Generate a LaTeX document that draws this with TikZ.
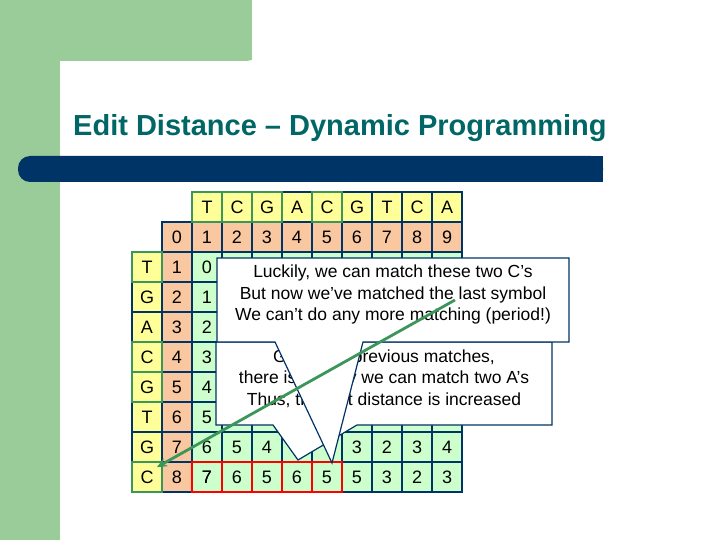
\documentclass[tikz,border=0pt]{standalone}
\usepackage{fontspec}
\setmainfont{Liberation Sans}
\usetikzlibrary{arrows.meta}
\begin{document}
\begin{tikzpicture}[x=1pt,y=-1pt,
  cell/.style={draw=navy,line width=1.8pt},
  callout/.style={draw=navy,fill=white,line width=1.2pt,line join=miter},
  ctext/.style={font=\fontsize{17.5}{20}\selectfont,anchor=center},
  celltxt/.style={font=\fontsize{18}{20}\selectfont,anchor=center}]
\definecolor{navy}{RGB}{0,51,102}
\definecolor{sgreen}{RGB}{153,204,153}
\definecolor{ttl}{RGB}{0,102,102}
\definecolor{hy}{RGB}{255,255,153}
\definecolor{ho}{RGB}{250,200,160}
\definecolor{hg}{RGB}{204,255,204}
\definecolor{ogreen}{RGB}{60,150,90}
\useasboundingbox (0,0) rectangle (720,540);
\fill[white] (0,0) rectangle (720,540);
\fill[sgreen] (0,0) rectangle (252,61);
\fill[sgreen] (0,0) rectangle (60,540);
\fill[white] (60,540) -- (60,78) arc[start angle=180,end angle=270,x radius=18,y radius=-18] -- (252,60) -- (252,61) -- (720,61) -- (720,540) -- cycle;
\node[anchor=base west,text=ttl,font=\bfseries\fontsize{29}{32}\selectfont,inner sep=0pt] (title) at (73,136) {Edit Distance – Dynamic Programming};
\fill[navy,rounded corners=12pt] (18,156) rectangle (603,182);
\fill[navy] (40,156) rectangle (603,182);
% header letters
\foreach \c [count=\i] in {T,C,G,A,C,G,T,C,A}{
  \draw[cell,fill=hy] (162+30*\i,192) rectangle ++(30,30);
  \node[celltxt] (h\i) at (177+30*\i,207) {\c};}
\foreach \v in {0,...,9}{
  \draw[cell,fill=ho] (162+30*\v,222) rectangle ++(30,30);
  \node[celltxt] (n\v) at (177+30*\v,237) {\v};}
\foreach \c [count=\j] in {T,G,A,C,G,T,G,C}{
  \draw[cell,fill=hy] (132,222+30*\j) rectangle ++(30,30);
  \node[celltxt] (r\j) at (147,237+30*\j) {\c};
  \draw[cell,fill=ho] (162,222+30*\j) rectangle ++(30,30);
  \node[celltxt] (m\j) at (177,237+30*\j) {\j};
  \foreach \i in {1,...,9}{\draw[cell,fill=hg] (162+30*\i,222+30*\j) rectangle ++(30,30);}
}
\foreach \v [count=\j] in {0,1,2,3,4,5,6,7}{\node[celltxt] (c\j) at (207,237+30*\j) {\v};}
\foreach \v/\i in {5/2,4/3,3/6,2/7,3/8,4/9}{\node[celltxt] (g\i) at (177+30*\i,447) {\v};}
\foreach \v [count=\i] in {7,6,5,6,5,5,3,2,3}{\node[celltxt] (b\i) at (177+30*\i,477) {\v};}
% highlights
\foreach \i in {1,2,3,5}{\draw[ogreen,line width=2.6pt] (162+30*\i,192) rectangle ++(30,30);}
\foreach \j in {1,4,5,8}{\draw[ogreen,line width=2.6pt] (132,222+30*\j) rectangle ++(30,30);}
\foreach \i in {1,...,5}{\draw[red,line width=2.6pt] (162+30*\i,462) rectangle ++(30,30);}
% callout 2
\draw[callout] (216,342) -- (552,342) -- (552,425) -- (357,425) -- (298,460) -- (273,425) -- (216,425) -- cycle;
\node[ctext] (t2a) at (384,358) {Given the previous matches,};
\node[ctext] (t2b) at (384,379) {there is no way we can match two A’s};
\node[ctext] (t2c) at (384,400) {Thus, the edit distance is increased};
% callout 1
\draw[callout] (217,258) -- (569,258) -- (569,342) -- (363,342) -- (332,463) -- (275,342) -- (217,342) -- cycle;
\node[ctext] (t1a) at (393,273) {Luckily, we can match these two C’s};
\node[ctext] (t1b) at (393,295) {But now we’ve matched the last symbol};
\node[ctext] (t1c) at (393,316) {We can’t do any more matching (period!)};
% green arrow
\coordinate (as) at (455,300);
\draw[ogreen,line width=2.8pt,-{Stealth[length=10pt,width=9pt]}] (as) -- (r8.north east);
\end{tikzpicture}
\end{document}
